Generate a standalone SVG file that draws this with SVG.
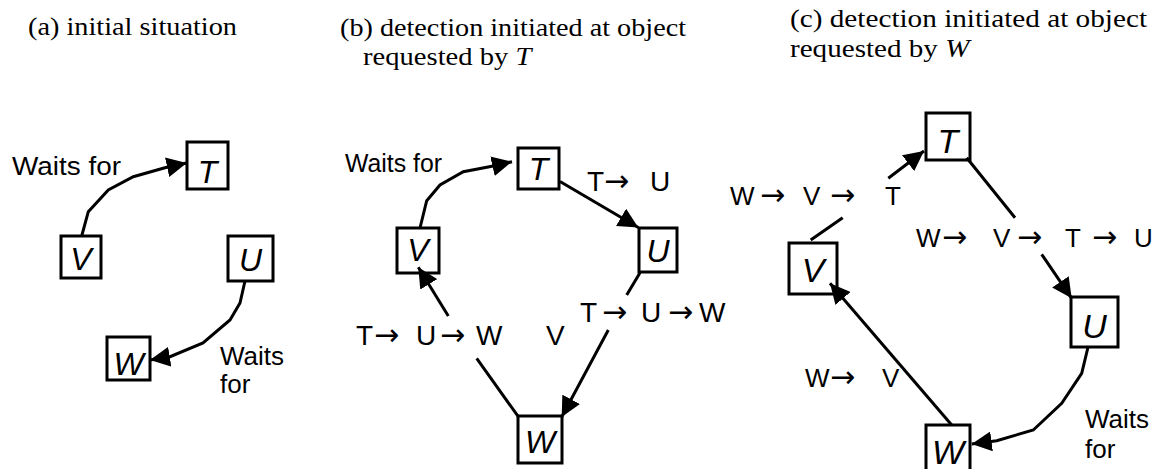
<svg xmlns="http://www.w3.org/2000/svg" width="1167" height="469" viewBox="0 0 1167 469">
<defs>
<style>
.box{fill:none;stroke:#000;stroke-width:3}
.edge{fill:none;stroke:#000;stroke-width:3;marker-end:url(#arr)}
.lbl{font-family:"Liberation Sans",Arial,sans-serif;font-style:italic;font-size:32px;text-anchor:middle;fill:#000}
.lblc{font-size:34px}
.t{font-family:"Liberation Sans",Arial,sans-serif;font-size:26px;fill:#000}
.tb{font-size:28px}
.a{font-family:"DejaVu Sans",sans-serif;font-size:30px}
.title{font-family:"Liberation Serif","Times New Roman",serif;font-size:26px;fill:#000}
</style>
<marker id="arr" viewBox="0 0 20 20" refX="20" refY="10" markerWidth="20" markerHeight="20" markerUnits="userSpaceOnUse" orient="auto">
<path d="M0,0 L20,10 L0,20 z" fill="#000"/>
</marker>
</defs>
<rect width="1167" height="469" fill="#fff"/>

<g id="titles">
<text class="title" x="28" y="35" textLength="209" lengthAdjust="spacingAndGlyphs">(a) initial situation</text>
<text class="title" x="340" y="36" textLength="346" lengthAdjust="spacingAndGlyphs">(b) detection initiated at object</text>
<text class="title" transform="translate(363,65) scale(1.1,1)">requested by <tspan font-style="italic">T</tspan></text>
<text class="title" x="790" y="27" textLength="357" lengthAdjust="spacingAndGlyphs">(c) detection initiated at object</text>
<text class="title" transform="translate(790,57) scale(1.12,1)">requested by <tspan font-style="italic">W</tspan></text>
</g>

<g id="a-T"><rect class="box" x="187" y="142" width="41" height="47"/><text class="lbl" x="207.5" y="183">T</text></g>
<g id="a-V"><rect class="box" x="61" y="236" width="40" height="42"/><text class="lbl" x="81" y="270">V</text></g>
<g id="a-U"><rect class="box" x="228" y="236" width="45" height="45"/><text class="lbl" x="250.5" y="271">U</text></g>
<g id="a-W"><rect class="box" x="107" y="337" width="43" height="43"/><text class="lbl" x="128.5" y="375">W</text></g>

<g id="b-T"><rect class="box" x="518" y="148" width="41" height="41"/><text class="lbl" x="538.5" y="180">T</text></g>
<g id="b-V"><rect class="box" x="397" y="228" width="42" height="45"/><text class="lbl" x="418" y="261">V</text></g>
<g id="b-U"><rect class="box" x="639" y="228" width="38" height="44"/><text class="lbl" x="658" y="262">U</text></g>
<g id="b-W"><rect class="box" x="518" y="416" width="44" height="47"/><text class="lbl" x="540" y="453">W</text></g>

<g id="c-T"><rect class="box" x="926" y="113" width="44" height="47"/><text class="lbl lblc" x="948" y="153">T</text></g>
<g id="c-V"><rect class="box" x="789" y="243" width="48" height="51"/><text class="lbl lblc" x="813" y="282">V</text></g>
<g id="c-U"><rect class="box" x="1071" y="297" width="47" height="50"/><text class="lbl lblc" x="1094.5" y="338">U</text></g>
<g id="c-W"><rect class="box" x="926" y="425" width="44" height="50"/><text class="lbl lblc" x="948" y="464">W</text></g>

<g id="connectors">
<path class="edge" d="M81.7,236 L88.3,211.7 L108.3,190 L133.3,176.7 L166.7,167.3 L186.7,163"/>
<path class="edge" d="M245,281 L240,303 L230,320 L203,343 L170,356.7 L150,360"/>
<path class="edge" d="M420,228 L426.7,200.7 L440,185 L463.3,171.7 L493.3,166 L512,161.7"/>
<path class="edge" d="M560,181.5 L638.3,227.5"/>
<path class="edge" d="M640,272.7 L626.7,295 M608.3,330 L561.7,417"/>
<path class="edge" d="M518.3,416.7 L476.7,358.3 M448.3,316 L418.3,267.3"/>
<path class="edge" d="M810.7,240 L842.7,217.7 M888.3,178.3 L924,151"/>
<path class="edge" d="M966.7,157.7 L1015,217.7 M1041.7,254.3 L1071.7,298.3"/>
<path class="edge" d="M1088.3,346 L1081.7,373.3 L1061.7,403.3 L1033.3,430 L996.7,440.7 L971.7,444"/>
<path class="edge" d="M951.7,425 L830,283.3"/>
</g>

<g id="labels">
<text class="t" x="12" y="175" font-size="25" textLength="109" lengthAdjust="spacingAndGlyphs">Waits for</text>
<text class="t" font-size="27"><tspan x="220" y="365">Waits</tspan><tspan x="220" y="393">for</tspan></text>
<text class="t" x="345" y="172" font-size="24" textLength="97" lengthAdjust="spacingAndGlyphs">Waits for</text>
<text class="t tb"><tspan x="587" y="191">T</tspan><tspan class="a" x="604">→</tspan><tspan x="650">U</tspan></text>
<text class="t tb"><tspan x="580" y="322">T</tspan><tspan class="a" x="602">→</tspan><tspan x="641">U</tspan><tspan class="a" x="668">→</tspan><tspan x="699">W</tspan></text>
<text class="t tb"><tspan x="356" y="345">T</tspan><tspan class="a" x="374">→</tspan><tspan x="416">U</tspan><tspan class="a" x="440">→</tspan><tspan x="476">W</tspan></text>
<text class="t tb" x="546" y="345">V</text>
<text class="t"><tspan x="730" y="205">W</tspan><tspan class="a" x="760">→</tspan><tspan x="803">V</tspan><tspan class="a" x="830">→</tspan><tspan x="885">T</tspan></text>
<text class="t"><tspan x="916" y="247">W</tspan><tspan class="a" x="942">→</tspan><tspan x="993">V</tspan><tspan class="a" x="1017">→</tspan><tspan x="1065">T</tspan><tspan class="a" x="1092">→</tspan><tspan x="1134">U</tspan></text>
<text class="t"><tspan x="805" y="387">W</tspan><tspan class="a" x="830">→</tspan><tspan x="882">V</tspan></text>
<text class="t" font-size="30"><tspan x="1085" y="428">Waits</tspan><tspan x="1085" y="458">for</tspan></text>
</g>
</svg>
